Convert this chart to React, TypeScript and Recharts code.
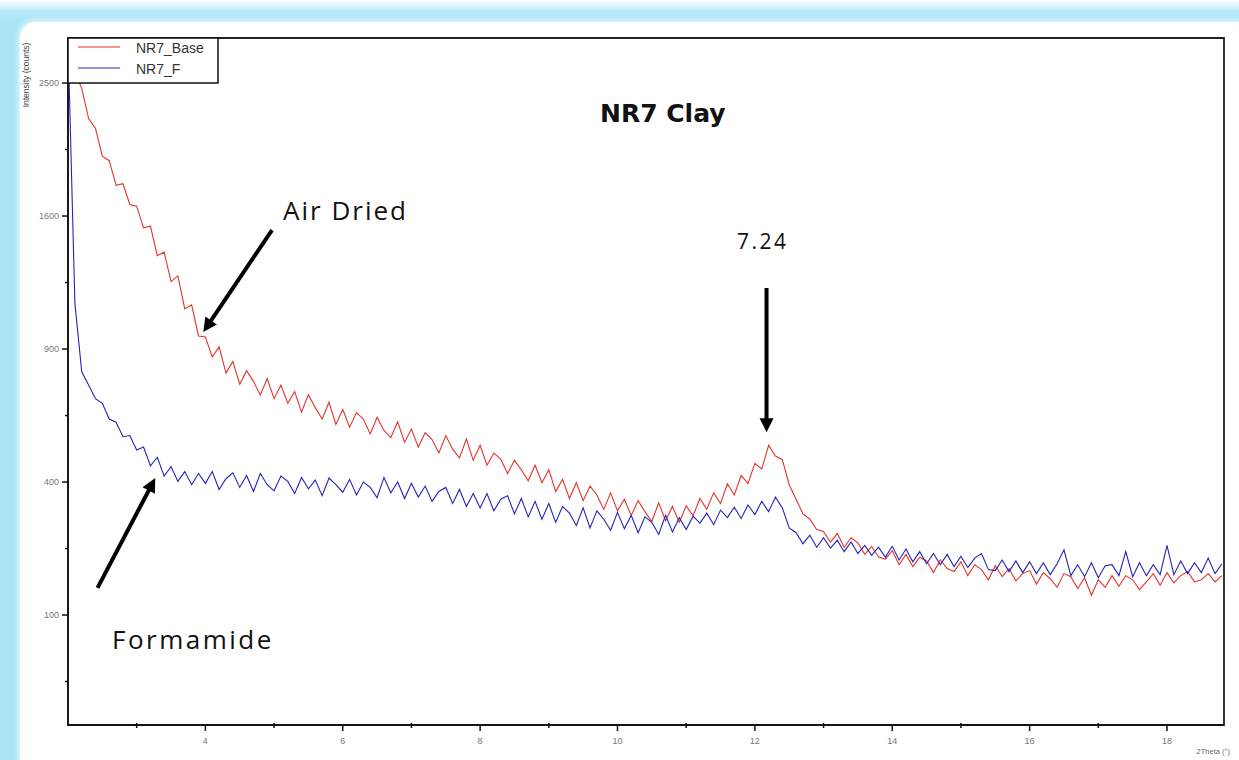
import React from 'react';
import { LineChart, Line, XAxis, YAxis, ReferenceArea, ReferenceLine } from 'recharts';

// XRD scan, 2Theta grid: start 2.0 deg, step 0.1 deg
const ANGLE_START = 2.0;
const ANGLE_STEP = 0.1;

// NR7_Base (air dried), counts
const baseCounts = [
  2850, 2580, 2460, 2240, 2170, 1980, 1950, 1790, 1800, 1670, // 2.0
  1660, 1530, 1540, 1370, 1390, 1230, 1260, 1090, 1110, 960, // 3.0
  955, 865, 910, 795, 845, 748, 805, 760, 705, 772, // 4.0
  690, 745, 672, 718, 638, 706, 655, 612, 676, 592, // 5.0
  648, 582, 636, 612, 558, 618, 570, 545, 602, 528, // 6.0
  575, 512, 562, 538, 492, 552, 505, 476, 540, 468, // 7.0
  518, 452, 492, 472, 426, 468, 438, 404, 452, 398, // 8.0
  438, 372, 408, 352, 398, 346, 388, 362, 322, 368, // 9.0
  318, 350, 306, 346, 316, 290, 340, 292, 330, 288, // 10.0
  332, 305, 352, 322, 368, 338, 395, 362, 420, 395, // 11.0
  458, 440, 518, 482, 470, 392, 350, 310, 296, 270, // 12.0
  265, 240, 260, 228, 250, 238, 212, 230, 206, 202, // 13.0
  220, 190, 212, 186, 206, 198, 174, 200, 182, 176, // 14.0
  196, 168, 190, 180, 160, 188, 166, 182, 158, 172, // 15.0
  178, 152, 174, 162, 146, 172, 166, 144, 164, 132, // 16.0
  160, 146, 168, 148, 168, 160, 142, 156, 172, 150, // 17.0
  174, 154, 168, 176, 156, 160, 172, 156, 168, // 18.0
];

// NR7_F (formamide), counts
const formamideCounts = [
  2850, 1120, 800, 745, 690, 672, 612, 600, 548, 552, // 2.0
  502, 512, 450, 478, 418, 448, 402, 432, 392, 426, // 3.0
  396, 432, 378, 410, 428, 384, 420, 372, 426, 392, // 4.0
  374, 418, 402, 366, 414, 380, 406, 360, 412, 392, // 5.0
  370, 408, 362, 400, 384, 354, 414, 368, 400, 352, // 6.0
  396, 356, 388, 344, 372, 384, 338, 378, 330, 366, // 7.0
  326, 366, 318, 350, 360, 310, 352, 302, 344, 296, // 8.0
  338, 288, 330, 312, 280, 326, 274, 318, 296, 268, // 9.0
  314, 272, 306, 262, 302, 288, 258, 306, 264, 300, // 10.0
  270, 304, 286, 312, 282, 320, 300, 328, 298, 334, // 11.0
  308, 344, 316, 356, 326, 274, 262, 236, 256, 228, // 12.0
  250, 226, 244, 218, 240, 214, 232, 210, 228, 206, // 13.0
  230, 200, 224, 196, 218, 192, 214, 190, 212, 186, // 14.0
  208, 184, 204, 214, 180, 178, 200, 176, 198, 174, // 15.0
  196, 172, 194, 170, 192, 222, 168, 190, 166, 194, // 16.0
  164, 188, 190, 168, 218, 166, 194, 168, 190, 170, // 17.0
  232, 170, 198, 172, 194, 174, 204, 172, 192, // 18.0
];

const SERIES_NAMES = ['NR7_Base', 'NR7_F'];

const ANGLE_TICKS = [3, 4, 5, 6, 7, 8, 9, 10, 11, 12, 13, 14, 15, 16, 17, 18];
const COUNT_TICKS = [25, 100, 225, 400, 625, 900, 1225, 1600, 2025, 2500];
const COUNT_LABELS = [100, 400, 900, 1600, 2500];

const X_DOMAIN: [number, number] = [2, 18.83];
const Y_DOMAIN: [number, number] = [3, 2850];

// annotation arrows, in data units (tail -> head)
const airDriedArrow = [{ x: 4.97, y: 1517 }, { x: 3.97, y: 978 }];
const formamideArrow = [{ x: 2.43, y: 145 }, { x: 3.27, y: 412 }];
const peakArrow = [{ x: 12.17, y: 1196 }, { x: 12.17, y: 564 }];

const data = baseCounts.map((v, i) => ({
  angle: +(ANGLE_START + i * ANGLE_STEP).toFixed(2),
  base: v,
  formamide: formamideCounts[i],
}));

const RED = '#e3342e';
const BLUE = '#2424b8';
const AXIS_FONT = '"Liberation Sans", Arial, sans-serif';

function AngleTick(props: any) {
  const { x, y, payload } = props;
  const major = payload.value % 2 === 0;
  return (
    <g>
      <line x1={x} y1={major ? y : y - 2} x2={x} y2={y + (major ? 6 : 3)} stroke="#111" strokeWidth={1.5} />
      {major && (
        <text x={x} y={y + 19} textAnchor="middle" fontSize={9} fill="#777" fontFamily={AXIS_FONT}>
          {payload.value}
        </text>
      )}
    </g>
  );
}

function CountTick(props: any) {
  const { x, y, payload } = props;
  const major = COUNT_LABELS.includes(payload.value);
  return (
    <g>
      <line x1={x - (major ? 6 : 3)} y1={y} x2={x} y2={y} stroke="#111" strokeWidth={1.5} />
      {major && (
        <text x={x - 9} y={y + 3} textAnchor="end" fontSize={9} fill="#777" fontFamily={AXIS_FONT}>
          {payload.value}
        </text>
      )}
    </g>
  );
}

function arrowShape(props: any) {
  const { x1, y1, x2, y2 } = props;
  const dx = x2 - x1;
  const dy = y2 - y1;
  const len = Math.hypot(dx, dy) || 1;
  const ux = dx / len;
  const uy = dy / len;
  const head = 14;
  const half = 7;
  const bx = x2 - ux * head;
  const by = y2 - uy * head;
  return (
    <g>
      <line x1={x1} y1={y1} x2={bx + ux * 2} y2={by + uy * 2} stroke="#000" strokeWidth={4} />
      <polygon
        points={`${x2},${y2} ${bx - uy * half},${by + ux * half} ${bx + uy * half},${by - ux * half}`}
        fill="#000"
      />
    </g>
  );
}

export default function App() {
  return (
    <div
      style={{
        position: 'absolute',
        left: 0,
        top: 0,
        width: 1239,
        height: 760,
        overflow: 'hidden',
        background: 'linear-gradient(to bottom, #fbfeff 0px, #b4e9f8 12px, #a9e5f6 22px, #a9e5f6 100%)',
      }}
    >
      <div
        style={{
          position: 'absolute',
          left: 20,
          top: 22,
          right: 0,
          bottom: 0,
          background: '#fff',
          borderTopLeftRadius: 16,
          boxShadow: '0 0 5px 2px rgba(255,255,255,0.7)',
        }}
      />
      <div style={{ position: 'absolute', left: 0, top: 0 }}>
        <LineChart width={1239} height={760} data={data} margin={{ top: 38, right: 15, bottom: 0, left: 0 }}>
          <XAxis
            dataKey="angle"
            type="number"
            domain={X_DOMAIN}
            ticks={ANGLE_TICKS}
            interval={0}
            allowDataOverflow
            height={35}
            tickLine={false}
            tickSize={0}
            tickMargin={0}
            tick={<AngleTick />}
            axisLine={{ stroke: '#111', strokeWidth: 1.5 }}
          />
          <YAxis
            type="number"
            scale="sqrt"
            domain={Y_DOMAIN}
            ticks={COUNT_TICKS}
            interval={0}
            allowDataOverflow
            width={68}
            tickLine={false}
            tickSize={0}
            tickMargin={0}
            tick={<CountTick />}
            axisLine={{ stroke: '#111', strokeWidth: 1.5 }}
          />
          <ReferenceArea
            x1={X_DOMAIN[0]}
            x2={X_DOMAIN[1]}
            y1={Y_DOMAIN[0]}
            y2={Y_DOMAIN[1]}
            fill="none"
            fillOpacity={0}
            stroke="#222"
            strokeWidth={1.8}
            ifOverflow="visible"
          />
          <Line
            type="linear"
            dataKey="base"
            name={SERIES_NAMES[0]}
            stroke={RED}
            strokeWidth={1.1}
            dot={false}
            isAnimationActive={false}
          />
          <Line
            type="linear"
            dataKey="formamide"
            name={SERIES_NAMES[1]}
            stroke={BLUE}
            strokeWidth={1.1}
            dot={false}
            isAnimationActive={false}
          />
          <ReferenceLine segment={airDriedArrow} ifOverflow="visible" shape={arrowShape} />
          <ReferenceLine segment={formamideArrow} ifOverflow="visible" shape={arrowShape} />
          <ReferenceLine segment={peakArrow} ifOverflow="visible" shape={arrowShape} />
        </LineChart>
      </div>
      <svg
        width={1239}
        height={760}
        style={{ position: 'absolute', left: 0, top: 0, pointerEvents: 'none' }}
      >
        {/* legend */}
        <rect x={68} y={38} width={150} height={45} fill="#fff" stroke="#111" strokeWidth={1.5} />
        <line x1={78} y1={47} x2={120} y2={47} stroke={RED} strokeWidth={1} />
        <text x={136} y={53} fontSize={14} fill="#333" fontFamily={AXIS_FONT}>{SERIES_NAMES[0]}</text>
        <line x1={78} y1={68} x2={120} y2={68} stroke={BLUE} strokeWidth={1} />
        <text x={136} y={74} fontSize={14} fill="#333" fontFamily={AXIS_FONT}>{SERIES_NAMES[1]}</text>

        {/* axis titles */}
        <text
          x={0}
          y={0}
          transform="translate(29,75) rotate(-90)"
          textAnchor="middle"
          fontSize={8.5}
          fill="#444"
          fontFamily={AXIS_FONT}
        >
          Intensity (counts)
        </text>
        <text x={1230} y={754} textAnchor="end" fontSize={7.5} fill="#666" fontFamily={AXIS_FONT}>
          2Theta (°)
        </text>

        {/* annotations */}
        <text x={600} y={122} fontSize={25} fontWeight="bold" fill="#111" fontFamily='"DejaVu Sans", Verdana, sans-serif'>
          NR7 Clay
        </text>
        <text x={283} y={220} fontSize={26} letterSpacing={2} fill="#111" fontFamily='"Open Sans", sans-serif'>
          Air Dried
        </text>
        <text x={112} y={649} fontSize={26} letterSpacing={2.5} fill="#111" fontFamily='"Open Sans", sans-serif'>
          Formamide
        </text>
        <text x={737} y={249} fontSize={21} letterSpacing={2.5} fill="#111" fontFamily='"Open Sans", sans-serif'>
          7.24
        </text>
      </svg>
    </div>
  );
}
